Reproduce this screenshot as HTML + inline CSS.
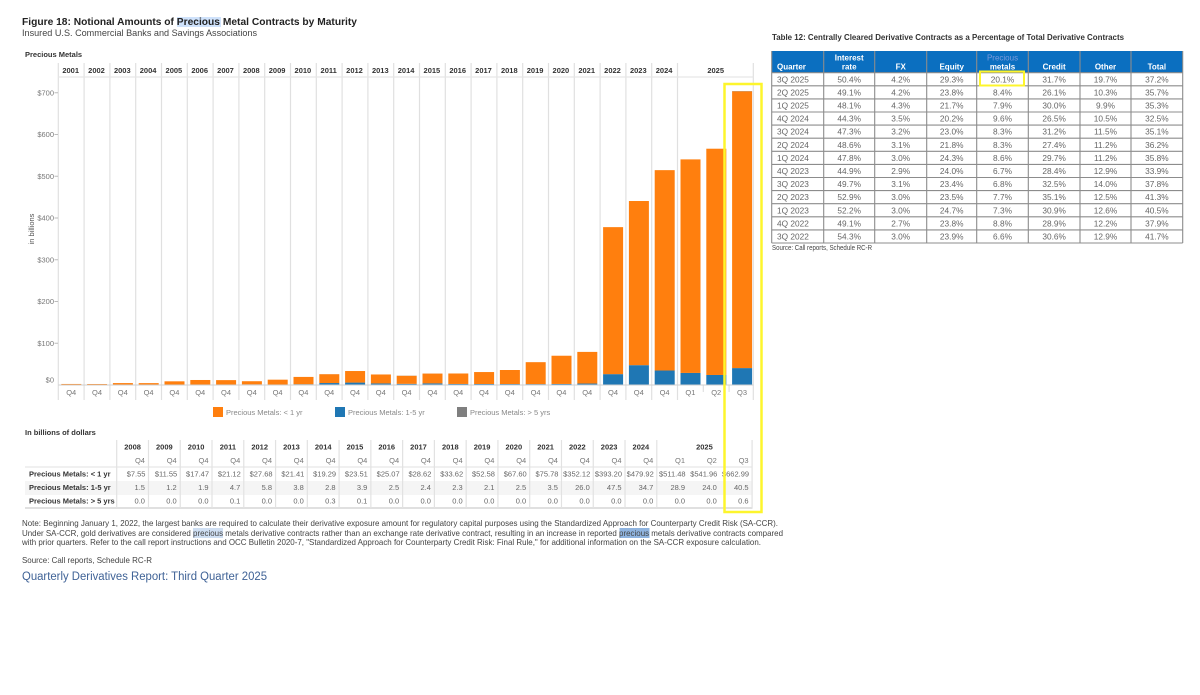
<!DOCTYPE html>
<html lang="en">
<head>
<meta charset="utf-8">
<title>Figure 18: Notional Amounts of Precious Metal Contracts by Maturity</title>
<style>
html,body{margin:0;padding:0;background:#fff;width:1200px;height:695px;overflow:hidden}
svg{display:block;font-family:"Liberation Sans",Arial,sans-serif;filter:blur(0.35px)}
text{white-space:pre}
</style>
</head>
<body>
<svg id="page" xmlns="http://www.w3.org/2000/svg" width="1200" height="695" viewBox="0 0 1200 695">
  <rect x="177" y="17" width="44" height="10" fill="#cfe2fb"/>
  <rect x="193" y="528" width="30" height="10" fill="#cfdff3"/>
  <rect x="619.5" y="528" width="30" height="10" fill="#8fb4e0"/>
  <text x="22" y="25" font-size="10.5" font-weight="700" fill="#222" textLength="335" lengthAdjust="spacingAndGlyphs">Figure 18: Notional Amounts of Precious Metal Contracts by Maturity</text>
  <text x="22" y="36" font-size="9.5" fill="#444" textLength="235" lengthAdjust="spacingAndGlyphs">Insured U.S. Commercial Banks and Savings Associations</text>
  <text x="25" y="57" font-size="7.5" font-weight="700" fill="#333">Precious Metals</text>
  <text transform="translate(34,229) rotate(-90)" text-anchor="middle" font-size="7.5" fill="#555">in billions</text>
  <g id="chart"></g>
  <g>
    <rect x="213" y="407" width="10" height="10" fill="#ff7f0e"/>
    <text x="226" y="415" font-size="7.5" fill="#888">Precious Metals: &lt; 1 yr</text>
    <rect x="335" y="407" width="10" height="10" fill="#1f77b4"/>
    <text x="348" y="415" font-size="7.5" fill="#888">Precious Metals: 1-5 yr</text>
    <rect x="457" y="407" width="10" height="10" fill="#7f7f7f"/>
    <text x="470" y="415" font-size="7.5" fill="#888">Precious Metals: &gt; 5 yrs</text>
  </g>
  <text x="25" y="435" font-size="7.5" font-weight="700" fill="#333">In billions of dollars</text>
  <g id="dataTable"></g>
  <text x="22" y="526" font-size="8.5" fill="#444" textLength="756" lengthAdjust="spacingAndGlyphs">Note: Beginning January 1, 2022, the largest banks are required to calculate their derivative exposure amount for regulatory capital purposes using the Standardized Approach for Counterparty Credit Risk (SA-CCR).</text>
  <text x="22" y="536" font-size="8.5" fill="#444" textLength="761" lengthAdjust="spacingAndGlyphs">Under SA-CCR, gold derivatives are considered precious metals derivative contracts rather than an exchange rate derivative contract, resulting in an increase in reported precious metals derivative contracts compared</text>
  <text x="22" y="545" font-size="8.5" fill="#444" textLength="739" lengthAdjust="spacingAndGlyphs">with prior quarters. Refer to the call report instructions and OCC Bulletin 2020-7, "Standardized Approach for Counterparty Credit Risk: Final Rule," for additional information on the SA-CCR exposure calculation.</text>
  <text x="22" y="563" font-size="8.5" fill="#444" textLength="130" lengthAdjust="spacingAndGlyphs">Source: Call reports, Schedule RC-R</text>
  <text x="22" y="580" font-size="11.5" fill="#3f6296" textLength="245" lengthAdjust="spacingAndGlyphs">Quarterly Derivatives Report: Third Quarter 2025</text>
  <text x="772" y="40" font-size="8" font-weight="700" fill="#333" textLength="352" lengthAdjust="spacingAndGlyphs">Table 12: Centrally Cleared Derivative Contracts as a Percentage of Total Derivative Contracts</text>
  <g id="clearedTable"></g>
  <text x="772" y="250" font-size="7" fill="#444" textLength="100" lengthAdjust="spacingAndGlyphs">Source: Call reports, Schedule RC-R</text>
  <rect x="724.5" y="84" width="37" height="428" fill="none" stroke="#fdf52c" stroke-width="2.5"/>
  <rect x="980" y="71.5" width="44" height="14" fill="none" stroke="#fdf52c" stroke-width="2"/>
</svg>
<script>
// Chart data
const years = ['2001','2002','2003','2004','2005','2006','2007','2008','2009','2010','2011','2012','2013','2014','2015','2016','2017','2018','2019','2020','2021','2022','2023','2024','2025','2025','2025'];
const quarters = ['Q4','Q4','Q4','Q4','Q4','Q4','Q4','Q4','Q4','Q4','Q4','Q4','Q4','Q4','Q4','Q4','Q4','Q4','Q4','Q4','Q4','Q4','Q4','Q4','Q1','Q2','Q3'];
const under1yr = [2,2,4,4,8,11,10.5,7.55,11.55,17.47,21.12,27.68,21.41,19.29,23.51,25.07,28.62,33.62,52.58,67.60,75.78,352.12,393.20,479.92,511.48,541.96,662.99];
const from1to5yr = [0.5,0.4,0.6,0.5,0.8,1,1.2,1.5,1.2,1.9,4.7,5.8,3.8,2.8,3.9,2.5,2.4,2.3,2.1,2.5,3.5,26.0,47.5,34.7,28.9,24.0,40.5];
const over5yr = [0,0,0,0,0,0,0,0,0,0,0.1,0,0,0.3,0.1,0,0,0,0,0,0,0,0,0,0,0,0.6];
const yTicks = [0,100,200,300,400,500,600,700];

// Table 12 data
const clearedHeaders = ['Quarter','Interest rate','FX','Equity','Precious metals','Credit','Other','Total'];
const clearedQuarters = ['3Q 2025','2Q 2025','1Q 2025','4Q 2024','3Q 2024','2Q 2024','1Q 2024','4Q 2023','3Q 2023','2Q 2023','1Q 2023','4Q 2022','3Q 2022'];
const interestRate = ['50.4%','49.1%','48.1%','44.3%','47.3%','48.6%','47.8%','44.9%','49.7%','52.9%','52.2%','49.1%','54.3%'];
const fx = ['4.2%','4.2%','4.3%','3.5%','3.2%','3.1%','3.0%','2.9%','3.1%','3.0%','3.0%','2.7%','3.0%'];
const equity = ['29.3%','23.8%','21.7%','20.2%','23.0%','21.8%','24.3%','24.0%','23.4%','23.5%','24.7%','23.8%','23.9%'];
const preciousMetals = ['20.1%','8.4%','7.9%','9.6%','8.3%','8.3%','8.6%','6.7%','6.8%','7.7%','7.3%','8.8%','6.6%'];
const credit = ['31.7%','26.1%','30.0%','26.5%','31.2%','27.4%','29.7%','28.4%','32.5%','35.1%','30.9%','28.9%','30.6%'];
const other = ['19.7%','10.3%','9.9%','10.5%','11.5%','11.2%','11.2%','12.9%','14.0%','12.5%','12.6%','12.2%','12.9%'];
const total = ['37.2%','35.7%','35.3%','32.5%','35.1%','36.2%','35.8%','33.9%','37.8%','41.3%','40.5%','37.9%','41.7%'];

const NS = 'http://www.w3.org/2000/svg';
function add(parent, tag, name, attrs, content) {
  const el = document.createElementNS(NS, tag);
  
  
  for (const k in attrs) el.setAttribute(k, attrs[k]);
  if (content !== undefined) el.textContent = content;
  parent.appendChild(el);
  return el;
}

// Axis functions
const plotLeft = 58.3, plotRight = 753.3, baseY = 385, pxPerUnit = 0.4175, step = 25.8;
const xAt = i => plotLeft + step * i;
const yAt = v => baseY - v * pxPerUnit;

const chart = document.getElementById('chart');
// Column dividers
for (let i = 0; i < quarters.length; i++) {
  const inner2025 = i === 25 || i === 26;
  add(chart, 'line', 'column-divider', {x1:xAt(i), x2:xAt(i), y1: inner2025 ? 385 : 63, y2: inner2025 ? 392 : 400, stroke:'#e0e0e0', 'stroke-width':1.2});
}
add(chart, 'line', 'column-divider-right', {x1:plotRight, x2:plotRight, y1:63, y2:400, stroke:'#e0e0e0', 'stroke-width':1.2});
add(chart, 'line', 'year-header-rule', {x1:plotLeft, x2:plotRight, y1:77, y2:77, stroke:'#e6e6e6', 'stroke-width':1.2});
// Year labels
years.forEach((y, i) => {
  if (y === '2025') return;
  add(chart, 'text', 'year-label-' + y, {x:xAt(i) + step / 2 - 0.5, y:73, 'text-anchor':'middle', 'font-size':7.5, 'font-weight':700, fill:'#333'}, y);
});
add(chart, 'text', 'year-label-2025', {x:xAt(25) + step / 2 - 0.5, y:73, 'text-anchor':'middle', 'font-size':7.5, 'font-weight':700, fill:'#333'}, '2025');
// Y axis
yTicks.forEach(t => {
  const y = yAt(t);
  if (t > 0) add(chart, 'line', 'y-tick-mark', {x1:54.5, x2:58, y1:y, y2:y, stroke:'#bbb', 'stroke-width':1});
  add(chart, 'text', 'y-tick-label', {x:54, y:(t === 0 ? y - 2.5 : y + 2.7), 'text-anchor':'end', 'font-size':7.5, fill:'#777'}, '$' + t);
});
// Bars
quarters.forEach((q, i) => {
  const bx = xAt(i) + 3;
  let running = 0;
  [[from1to5yr[i], '#1f77b4', 'bar-1-5yr'], [under1yr[i], '#ff7f0e', 'bar-under-1yr'], [over5yr[i], '#7f7f7f', 'bar-over-5yr']].forEach(s => {
    if (s[0] > 0) {
      add(chart, 'rect', s[2] + '-' + years[i] + '-' + q, {x:bx, y:yAt(running + s[0]), width:20, height:s[0] * pxPerUnit, fill:s[1]});
    }
    running += s[0];
  });
  add(chart, 'text', 'quarter-label', {x:xAt(i) + step / 2, y:395, 'text-anchor':'middle', 'font-size':7.5, fill:'#777'}, q);
});
add(chart, 'line', 'x-axis-baseline', {x1:plotLeft, x2:plotRight, y1:baseY, y2:baseY, stroke:'#cfcfcf', 'stroke-width':1});

// Lower data table (2008 onward)
const tbl = document.getElementById('dataTable');
const firstRow = 7;
const tLeft = 116.7, tStep = 31.77, nCols = quarters.length - firstRow;
add(tbl, 'rect', 'row-shading-1-5yr', {x:25, y:481, width:727.5, height:14, fill:'#f5f5f5'});
add(tbl, 'line', 'table-header-rule', {x1:25, x2:752.5, y1:467, y2:467, stroke:'#e0e0e0', 'stroke-width':1});
add(tbl, 'line', 'table-bottom-rule', {x1:25, x2:752.5, y1:508, y2:508, stroke:'#e0e0e0', 'stroke-width':2});
for (let c = 0; c <= nCols; c++) {
  const x = tLeft + tStep * c;
  if (c === 18 || c === 19) continue;
  add(tbl, 'line', 'table-column-divider', {x1:x, x2:x, y1:440, y2:508, stroke:'#e2e2e2', 'stroke-width':1.2});
}
['Precious Metals: < 1 yr','Precious Metals: 1-5 yr','Precious Metals: > 5 yrs'].forEach((label, r) => {
  add(tbl, 'text', 'table-row-label', {x:29, y:476.5 + r * 13.5, 'font-size':7.5, 'font-weight':700, fill:'#333'}, label);
});
for (let c = 0; c < nCols; c++) {
  const i = firstRow + c;
  const right = tLeft + tStep * (c + 1) - 3.5;
  if (years[i] !== '2025') {
    add(tbl, 'text', 'table-year-' + years[i], {x:tLeft + tStep * (c + 0.5), y:449.5, 'text-anchor':'middle', 'font-size':7.5, 'font-weight':700, fill:'#333'}, years[i]);
  }
  add(tbl, 'text', 'table-quarter', {x:right, y:463, 'text-anchor':'end', 'font-size':7.5, fill:'#777'}, quarters[i]);
  add(tbl, 'text', 'table-value-under-1yr', {x:right + 0.5, y:476.5, 'text-anchor':'end', 'font-size':7.5, fill:'#666'}, '$' + under1yr[i].toFixed(2));
  add(tbl, 'text', 'table-value-1-5yr', {x:right, y:490, 'text-anchor':'end', 'font-size':7.5, fill:'#666'}, from1to5yr[i].toFixed(1));
  add(tbl, 'text', 'table-value-over-5yr', {x:right, y:503.5, 'text-anchor':'end', 'font-size':7.5, fill:'#666'}, over5yr[i].toFixed(1));
}
add(tbl, 'text', 'table-year-2025', {x:tLeft + tStep * 18.5, y:449.5, 'text-anchor':'middle', 'font-size':7.5, 'font-weight':700, fill:'#333'}, '2025');

// Table 12
const ct = document.getElementById('clearedTable');
const colX = [771.7,823.7,874.7,926.7,976.7,1028.3,1080,1131,1182.7];
const cTop = 51, cHead = 72.7, cRow = 13.1, cBottom = 243;
add(ct, 'rect', 'table-12-header-background', {x:colX[0], y:cTop, width:colX[8] - colX[0], height:cHead - cTop, fill:'#0b6fc0'});
const columns = [clearedQuarters, interestRate, fx, equity, preciousMetals, credit, other, total];
clearedHeaders.forEach((h, c) => {
  const cx = (colX[c] + colX[c + 1]) / 2;
  const parts = h === 'Interest rate' ? ['Interest','rate'] : h === 'Precious metals' ? ['Precious','metals'] : [h];
  if (parts.length === 2) {
    add(ct, 'text', 'table-12-header-' + parts[0].toLowerCase(), {x:cx, y:60.5, 'text-anchor':'middle', 'font-size':8, 'font-weight': c === 4 ? 400 : 700, fill: c === 4 ? '#7e9bdc' : '#fff'}, parts[0]);
    add(ct, 'text', 'table-12-header-' + parts[1], {x:cx, y:69.5, 'text-anchor':'middle', 'font-size':8, 'font-weight':700, fill:'#fff'}, parts[1]);
  } else if (c === 0) {
    add(ct, 'text', 'table-12-header-quarter', {x:777, y:69.5, 'font-size':8, 'font-weight':700, fill:'#fff'}, h);
  } else {
    add(ct, 'text', 'table-12-header-' + h.toLowerCase(), {x:cx, y:69.5, 'text-anchor':'middle', 'font-size':8, 'font-weight':700, fill:'#fff'}, h);
  }
  columns[c].forEach((v, r) => {
    const y = cHead + cRow * r + 9.6;
    if (c === 0) add(ct, 'text', 'table-12-quarter', {x:777, y:y, 'font-size':8.3, fill:'#666'}, v);
    else add(ct, 'text', 'table-12-cell', {x:cx, y:y, 'text-anchor':'middle', 'font-size':8.3, fill:'#666'}, v);
  });
});
for (let r = 0; r <= clearedQuarters.length; r++) {
  const y = cHead + cRow * r;
  add(ct, 'line', 'table-12-row-rule', {x1:colX[0], x2:colX[8], y1:y, y2:y, stroke:'#8c8c8c', 'stroke-width':1.1});
}
colX.forEach(x => {
  add(ct, 'line', 'table-12-column-rule', {x1:x, x2:x, y1:cTop, y2:cBottom, stroke:'#8c8c8c', 'stroke-width':1.1});
});
</script>
</body>
</html>
